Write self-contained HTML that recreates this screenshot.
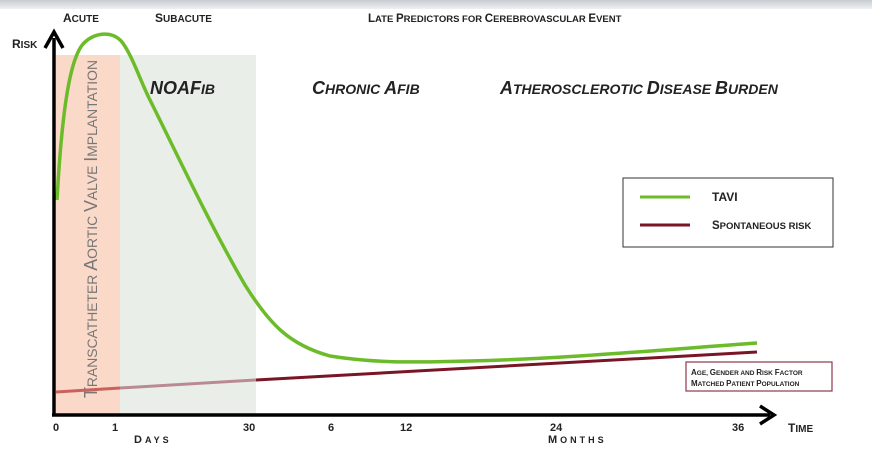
<!DOCTYPE html><html><head><style>
body{margin:0;width:872px;height:447px;overflow:hidden;background:#fff;font-family:"Liberation Sans",sans-serif;}
svg text{font-family:"Liberation Sans",sans-serif;font-weight:bold;fill:#222;}
</style></head><body>
<svg width="872" height="447" viewBox="0 0 872 447" xmlns="http://www.w3.org/2000/svg">
<defs><linearGradient id="g" x1="0" y1="0" x2="0" y2="1"><stop offset="0" stop-color="#c8ccd0"/><stop offset="1" stop-color="#eef0f2"/></linearGradient></defs>
<rect x="0" y="0" width="872" height="9" fill="url(#g)"/>
<rect x="56" y="55" width="64" height="360" fill="#fbd9c8"/>
<rect x="120" y="55" width="136" height="360" fill="#e9efe8"/>
<text x="63" y="22" font-size="10"><tspan font-size="12">A</tspan>CUTE</text>
<text x="155" y="22" font-size="10"><tspan font-size="12">S</tspan>UBACUTE</text>
<text x="368" y="22" font-size="9.5"><tspan font-size="11.5">L</tspan>ATE <tspan font-size="11.5">P</tspan>REDICTORS FOR <tspan font-size="11.5">C</tspan>EREBROVASCULAR <tspan font-size="11.5">E</tspan>VENT</text>
<text x="12" y="48" font-size="10"><tspan font-size="12">R</tspan>ISK</text>
<text x="150" y="94" font-size="14" font-style="italic"><tspan font-size="18">NOAF</tspan>IB</text>
<text x="312" y="94" font-size="14" font-style="italic"><tspan font-size="18">C</tspan>HRONIC <tspan font-size="18">A</tspan>FIB</text>
<text x="500" y="94" font-size="14" font-style="italic"><tspan font-size="18">A</tspan>THEROSCLEROTIC <tspan font-size="18">D</tspan>ISEASE <tspan font-size="18">B</tspan>URDEN</text>
<text transform="translate(97,398) rotate(-90)" font-size="14" style="font-weight:normal;fill:#777" textLength="338" lengthAdjust="spacingAndGlyphs"><tspan font-size="18">T</tspan>RANSCATHETER <tspan font-size="18">A</tspan>ORTIC <tspan font-size="18">V</tspan>ALVE <tspan font-size="18">I</tspan>MPLANTATION</text>
<line x1="56" y1="392" x2="120" y2="388" stroke="#c9625e" stroke-width="3"/>
<line x1="120" y1="388" x2="256" y2="380" stroke="#b98a92" stroke-width="3"/>
<line x1="256" y1="380" x2="757" y2="352" stroke="#7a1525" stroke-width="3"/>
<path d="M57,200 C62,110 70,55 85,42 C95,33 112,30 122,42 C132,55 140,80 150,100 C175,150 210,225 245,285 C270,325 290,345 330,356 C380,364 420,362 470,361 C560,359 660,350 757,343" fill="none" stroke="#6cbb2a" stroke-width="3.5"/>
<line x1="54" y1="416" x2="54" y2="38" stroke="#000" stroke-width="3.5"/>
<path d="M45,48 L54,32 L63,48" fill="none" stroke="#000" stroke-width="3.5"/>
<line x1="52" y1="415" x2="770" y2="415" stroke="#000" stroke-width="3.5"/>
<path d="M760,406 L774,415 L760,424" fill="none" stroke="#000" stroke-width="3.5"/>
<g font-size="11">
<text x="53" y="431">0</text><text x="112" y="431">1</text><text x="243" y="431">30</text>
<text x="328" y="431">6</text><text x="400" y="431">12</text><text x="550" y="431">24</text>
<text x="732" y="431">36</text>
<text x="788" y="432" font-size="10"><tspan font-size="12">T</tspan>IME</text>
<text x="134" y="443" font-size="9" letter-spacing="3"><tspan font-size="11">D</tspan>AYS</text>
<text x="548" y="443" font-size="9" letter-spacing="3"><tspan font-size="11">M</tspan>ONTHS</text>
</g>
<rect x="623" y="178" width="210" height="69" fill="#fff" stroke="#333" stroke-width="1"/>
<line x1="640" y1="197" x2="690" y2="197" stroke="#6cbb2a" stroke-width="3"/>
<line x1="640" y1="225" x2="690" y2="225" stroke="#7a1525" stroke-width="3"/>
<text x="712" y="201" font-size="12">TAVI</text>
<text x="712" y="229" font-size="9.5"><tspan font-size="11.5">S</tspan>PONTANEOUS RISK</text>
<rect x="686" y="362" width="146" height="29" fill="#fff" stroke="#8a3a4a" stroke-width="1.2"/>
<text x="691" y="375" font-size="6.5"><tspan font-size="8">A</tspan>GE, <tspan font-size="8">G</tspan>ENDER AND <tspan font-size="8">R</tspan>ISK <tspan font-size="8">F</tspan>ACTOR</text>
<text x="691" y="386" font-size="6.5"><tspan font-size="8">M</tspan>ATCHED <tspan font-size="8">P</tspan>ATIENT <tspan font-size="8">P</tspan>OPULATION</text>
</svg>
</body></html>
